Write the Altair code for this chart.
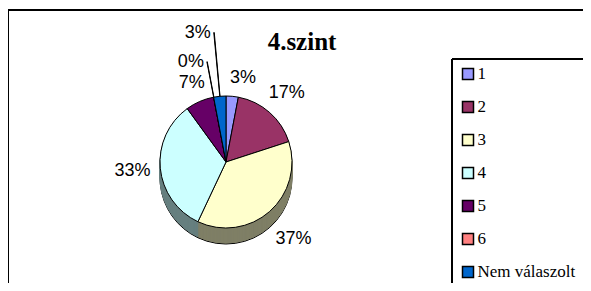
import altair as alt
import pandas as pd

# ---- data ----
categories = ["1", "2", "3", "4", "5", "6", "Nem válaszolt"]
percents = [3, 17, 37, 33, 7, 0, 3]
labels = ["3%", "17%", "37%", "33%", "7%", "0%", "3%"]

# ---- styles ----
top_colors = ["#9999FF", "#993366", "#FFFFCC", "#CCFFFF", "#660066", "#FF8080", "#0066CC"]


def darker(h, f=0.5):
    h = h.lstrip("#")
    r, g, b = (int(h[i:i + 2], 16) for i in (0, 2, 4))
    return "#%02x%02x%02x" % (int(r * f), int(g * f), int(b * f))


side_colors = [darker(c) for c in top_colors]

df = pd.DataFrame({
    "cat": categories,
    "pct": percents,
    "label": labels,
    "idx": list(range(len(categories))),
    "side": side_colors,
})
df["mid"] = df["pct"].cumsum() - df["pct"] / 2
df["mid2"] = df["mid"] + 0.06

# ---- layout (pixels, view coordinates) ----
W, H = 573, 273
CX, CY, R, D = 216, 152, 66, 16
FONT_PCT = 18

theta_scale = alt.Scale(domain=[0, 100])
base = alt.Chart(df)

layers = []

# frame and legend box edges
frame = alt.Chart(pd.DataFrame({"a": [0]}))
layers.append(frame.mark_rule(color="black", strokeWidth=2).encode(
    x=alt.value(-2), x2=alt.value(W), y=alt.value(0), y2=alt.value(0)))
layers.append(frame.mark_rule(color="black", strokeWidth=2).encode(
    x=alt.value(-2), x2=alt.value(-2), y=alt.value(0), y2=alt.value(H)))
layers.append(frame.mark_rule(color="black", strokeWidth=2).encode(
    x=alt.value(442), x2=alt.value(W), y=alt.value(49), y2=alt.value(49)))
layers.append(frame.mark_rule(color="black", strokeWidth=2).encode(
    x=alt.value(442), x2=alt.value(442), y=alt.value(49), y2=alt.value(H)))

# side wall of the 3-D pie
for k in range(D, 0, -1):
    mk = dict(outerRadius=R)
    if k == D:
        mk.update(stroke="black", strokeWidth=1)
    layer = base.mark_arc(**mk).encode(
        theta=alt.Theta("pct:Q", stack=True, scale=theta_scale),
        order=alt.Order("idx:Q"),
        color=alt.Color("side:N", scale=None),
        x=alt.value(CX),
        y=alt.value(CY + k),
    )
    if k != D:
        layer = layer.encode(stroke=alt.Stroke("side:N", scale=None))
    layers.append(layer)

# top face
top = base.mark_arc(outerRadius=R, stroke="black", strokeWidth=1).encode(
    theta=alt.Theta("pct:Q", stack=True, scale=theta_scale),
    order=alt.Order("idx:Q"),
    color=alt.Color(
        "cat:N",
        scale=alt.Scale(domain=categories, range=top_colors),
        sort=categories,
        title=None,
        legend=alt.Legend(orient="none", legendX=449.5, legendY=55.5),
    ),
    x=alt.value(CX),
    y=alt.value(CY),
)
layers.append(top)

# leader lines and labels for the tiny slices
for cat, rr in (("6", 102), ("Nem válaszolt", 130)):
    sub = base.transform_filter(alt.datum.cat == cat)
    layers.append(sub.mark_arc(
        innerRadius=R, outerRadius=rr, stroke="black", strokeWidth=1, fill="black"
    ).encode(
        theta=alt.Theta("mid:Q", scale=theta_scale),
        theta2="mid2:Q",
        x=alt.value(CX),
        y=alt.value(CY),
    ))
    layers.append(sub.mark_text(
        font="Liberation Sans", fontSize=FONT_PCT, color="black", align="right", dx=-3
    ).encode(
        theta=alt.Theta("mid:Q", scale=theta_scale),
        radius=alt.value(rr),
        text="label:N",
        x=alt.value(CX),
        y=alt.value(CY),
    ))

# other percentage labels: (category, radius, align, dx)
label_spec = [
    ("1", 84, "left", -4),
    ("2", 92, "center", 0),
    ("3", 102, "center", 0),
    ("4", 94, "center", 0),
    ("5", 86, "center", 0),
]
for cat, rr, al, dx in label_spec:
    layers.append(base.transform_filter(alt.datum.cat == cat).mark_text(
        font="Liberation Sans", fontSize=FONT_PCT, color="black", align=al, dx=dx
    ).encode(
        theta=alt.Theta("mid:Q", scale=theta_scale),
        radius=alt.value(rr),
        text="label:N",
        x=alt.value(CX),
        y=alt.value(CY),
    ))

# title
layers.append(alt.Chart(pd.DataFrame({"t": ["4.szint"]})).mark_text(
    font="Liberation Serif", fontSize=25, fontWeight="bold", color="black"
).encode(text="t:N", x=alt.value(292), y=alt.value(32)))

chart = alt.layer(*layers).properties(
    width=W,
    height=H,
    autosize="none",
    padding={"left": 2, "top": 2, "right": 0, "bottom": 0},
).configure_view(stroke="transparent").configure_legend(
    padding=0,
    symbolType="square",
    symbolSize=121,
    symbolStrokeColor="black",
    symbolStrokeWidth=1.5,
    symbolOpacity=1,
    labelFont="Liberation Serif",
    labelFontSize=17,
    labelColor="black",
    labelOffset=1,
    rowPadding=15,
)

chart.save("out.html", embed_options={"renderer": "svg", "actions": False})
